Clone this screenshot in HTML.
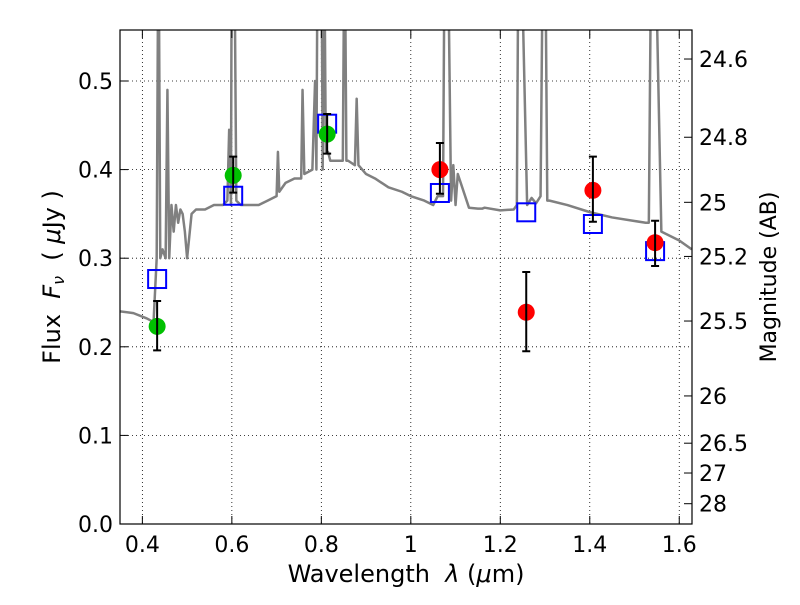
<!DOCTYPE html>
<html><head><meta charset="utf-8"><style>
body{margin:0;background:#fff}
svg text{font-family:"DejaVu Sans","Liberation Sans",sans-serif;fill:#000;white-space:pre}
</style></head><body>
<svg id="chart" width="800" height="600">
<defs><clipPath id="clip"><rect x="120" y="30" width="572" height="494"/></clipPath></defs>
<rect width="800" height="600" fill="#fff"/>
<g id="grid"></g>
<g id="spec" clip-path="url(#clip)"></g>
<g id="marks" clip-path="url(#clip)"></g>
<rect x="120" y="30" width="572" height="494" fill="none" stroke="#000" stroke-width="1.2"/>
<g id="axes"></g>
<text x="406" y="582" font-size="24" text-anchor="middle">Wavelength  <tspan font-style="italic">λ</tspan> (<tspan font-style="italic">μ</tspan>m)</text>
<text transform="translate(60,277) rotate(-90)" font-size="24" text-anchor="middle">Flux  <tspan font-style="italic">F</tspan><tspan font-style="italic" font-size="16" dy="4">ν</tspan><tspan dy="-4">  ( </tspan><tspan font-style="italic">μ</tspan>Jy )</text>
<text transform="translate(776,277) rotate(-90)" font-size="22" text-anchor="middle">Magnitude (AB)</text>
</svg>
<script>
const xTicks=[0.4,0.6,0.8,1.0,1.2,1.4,1.6];
const xTickLabels=["0.4","0.6","0.8","1","1.2","1.4","1.6"];
const yTicks=[0,0.1,0.2,0.3,0.4,0.5];
const yTickLabels=["0.0","0.1","0.2","0.3","0.4","0.5"];
const magTicks=[24.6,24.8,25,25.2,25.5,26,26.5,27,28];
const magTickLabels=["24.6","24.8","25","25.2","25.5","26","26.5","27","28"];
const specWave=[0.35,0.38,0.41,0.425,0.432,0.436,0.44,0.445,0.452,0.456,0.46,0.465,0.47,0.475,0.48,0.485,0.49,0.495,0.5,0.51,0.52,0.54,0.56,0.58,0.59,0.594,0.598,0.6,0.605,0.61,0.62,0.64,0.66,0.68,0.70,0.703,0.706,0.72,0.74,0.755,0.758,0.762,0.78,0.786,0.789,0.792,0.80,0.803,0.806,0.81,0.815,0.82,0.84,0.848,0.852,0.856,0.86,0.875,0.879,0.883,0.9,0.92,0.95,0.98,1.0,1.03,1.05,1.06,1.072,1.076,1.082,1.09,1.095,1.1,1.105,1.13,1.15,1.16,1.165,1.2,1.23,1.237,1.241,1.245,1.26,1.27,1.28,1.29,1.296,1.3,1.305,1.31,1.35,1.4,1.45,1.5,1.525,1.532,1.538,1.545,1.56,1.6,1.628];
const specFlux=[0.24,0.238,0.232,0.228,0.3,0.7,0.3,0.31,0.3,0.49,0.3,0.36,0.33,0.36,0.34,0.355,0.35,0.33,0.3,0.35,0.355,0.355,0.36,0.36,0.365,0.445,0.36,0.7,0.7,0.365,0.36,0.36,0.36,0.365,0.37,0.42,0.375,0.385,0.39,0.39,0.49,0.395,0.4,0.5,0.4,0.7,0.7,0.4,0.7,0.42,0.42,0.41,0.41,0.41,0.7,0.41,0.41,0.405,0.48,0.405,0.395,0.39,0.38,0.375,0.37,0.365,0.36,0.37,0.37,0.7,0.7,0.365,0.405,0.36,0.395,0.357,0.356,0.356,0.357,0.354,0.355,0.36,0.7,0.7,0.36,0.368,0.362,0.37,0.7,0.7,0.365,0.365,0.36,0.352,0.346,0.342,0.34,0.34,0.7,0.7,0.33,0.32,0.31];
const photWave=[0.433,0.603,0.813,1.065,1.258,1.407,1.546];
const photFlux=[0.223,0.3935,0.440,0.400,0.239,0.3766,0.3175];
const errHigh=[0.2517,0.4146,0.4628,0.430,0.2844,0.4146,0.3423];
const errLow=[0.196,0.374,0.418,0.3728,0.195,0.3412,0.2912];
const modelFlux=[0.2765,0.3705,0.4518,0.3736,0.3518,0.3386,0.308];
const photColors=["#00c000","#00c000","#00c000","#ff0000","#ff0000","#ff0000","#ff0000"];

const NS="http://www.w3.org/2000/svg";
const X=v=>120+(v-0.35)*447.4;
const Y=v=>524-v*886;
const M=m=>Y(Math.pow(10,(23.9-m)/2.5));
function mk(tag,attrs,parent){const e=document.createElementNS(NS,tag);for(const k in attrs)e.setAttribute(k,attrs[k]);document.getElementById(parent).appendChild(e);return e;}

xTicks.forEach((t,i)=>{
  const g=mk('line',{x1:X(t),x2:X(t),y1:30,y2:524,stroke:'#000','stroke-width':0.8,'stroke-dasharray':'1,3'},'grid');
  
  
  mk('line',{x1:X(t),x2:X(t),y1:524,y2:516,stroke:'#000'},'axes');
  mk('line',{x1:X(t),x2:X(t),y1:30,y2:38,stroke:'#000'},'axes');
  const l=mk('text',{x:X(t),y:552,'font-size':22,'text-anchor':'middle'},'axes');
  l.textContent=xTickLabels[i];
  
  
});
yTicks.forEach((t,i)=>{
  if(t>0&&t<0.55){const g=mk('line',{x1:120,x2:692,y1:Y(t),y2:Y(t),stroke:'#000','stroke-width':0.8,'stroke-dasharray':'1,3'},'grid');
  
  }
  mk('line',{x1:120,x2:128,y1:Y(t),y2:Y(t),stroke:'#000'},'axes');
  const l=mk('text',{x:113,y:Y(t)+8,'font-size':22,'text-anchor':'end'},'axes');
  l.textContent=yTickLabels[i];
  
  
});
magTicks.forEach((m,i)=>{
  const y=M(m);
  mk('line',{x1:684,x2:692,y1:y,y2:y,stroke:'#000'},'axes');
  const l=mk('text',{x:699,y:y+8,'font-size':22},'axes');
  l.textContent=magTickLabels[i];
  
  
});
const sp=mk('polyline',{points:specWave.map((w,i)=>X(w)+','+Y(specFlux[i])).join(' '),fill:'none',stroke:'#808080','stroke-width':2.5,'stroke-linejoin':'round'},'spec');


photWave.forEach((w,i)=>{
  const sq=mk('rect',{x:X(w)-9,y:Y(modelFlux[i])-9,width:18,height:18,fill:'none',stroke:'#0000ff','stroke-width':2},'marks');
  
  
});
photWave.forEach((w,i)=>{
  const c=mk('circle',{cx:X(w),cy:Y(photFlux[i]),r:8.5,fill:photColors[i]},'marks');
  
  
  const e=mk('path',{d:`M${X(w)},${Y(errHigh[i])}V${Y(errLow[i])}M${X(w)-4},${Y(errHigh[i])}h8M${X(w)-4},${Y(errLow[i])}h8`,stroke:'#000','stroke-width':2,fill:'none'},'marks');
  
  
});
</script>
</body></html>
